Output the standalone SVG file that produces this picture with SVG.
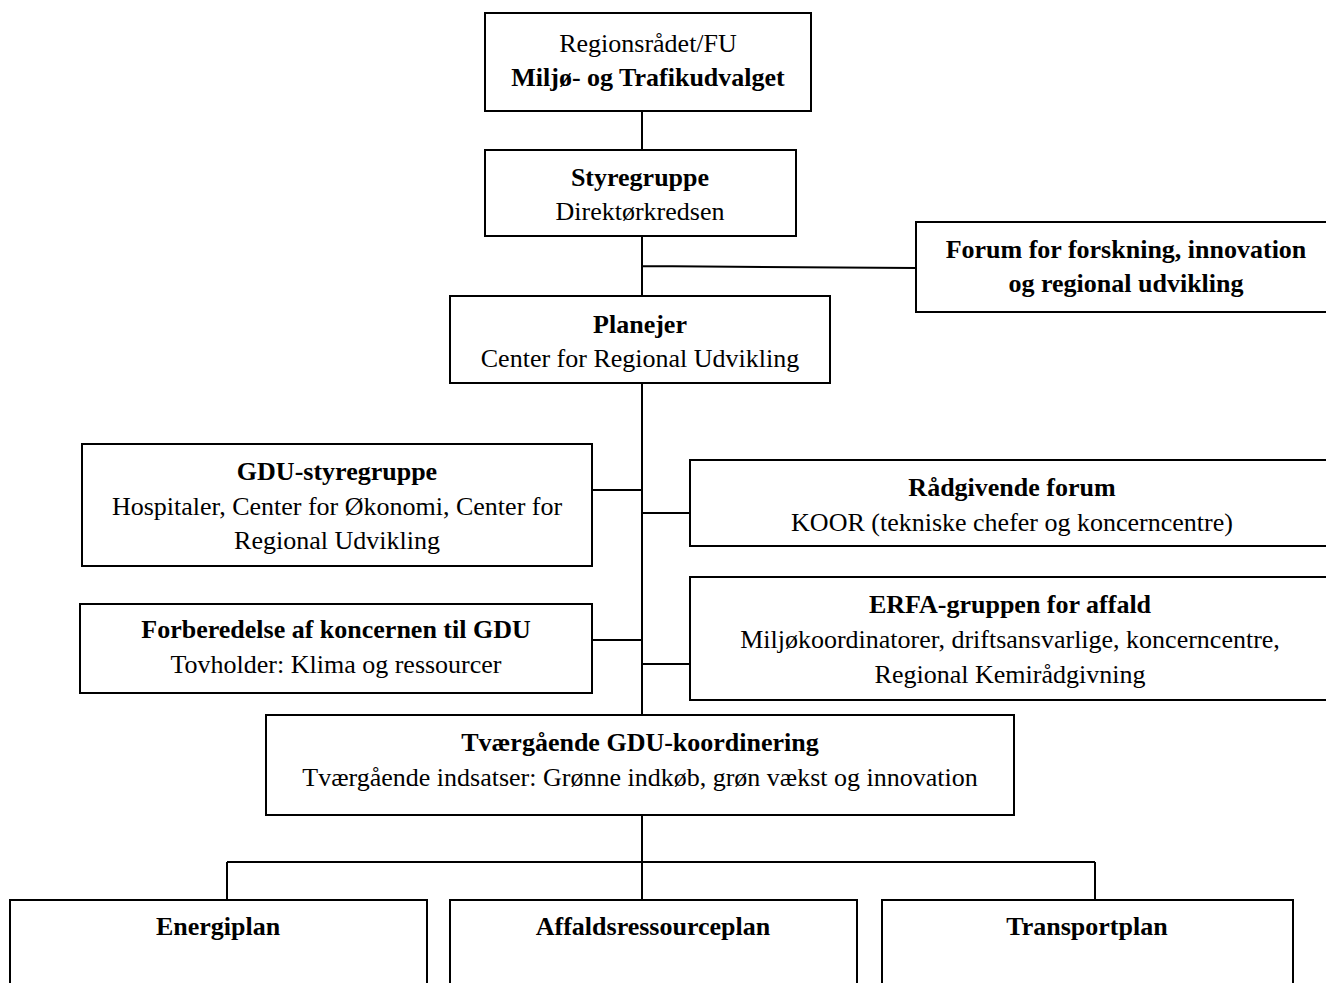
<svg xmlns="http://www.w3.org/2000/svg" width="1326" height="983" viewBox="0 0 1326 983">
<style>
.box{fill:#fff;stroke:#000;stroke-width:2}
.ln{fill:none;stroke:#000;stroke-width:2}
text{font-family:"Liberation Serif","Times New Roman",serif;font-size:26px;fill:#000;text-anchor:middle}
.b{font-weight:bold}
</style>
<rect width="1326" height="983" fill="#fff"/>
<g id="connectors">
<path class="ln" d="M642 111V150M642 236V296M642 266L916 268M642 383V715M592 490H642M642 513H690M592 640H642M642 664H690M642 815V862M227 862H1095M227 862V900M1095 862V900M642 862V900"/>
</g>
<g id="n-top"><rect class="box" x="485" y="13" width="326" height="98"/><text x="648" y="52">Regionsrådet/FU</text><text class="b" x="648" y="86">Miljø- og Trafikudvalget</text></g>
<g id="n-styre"><rect class="box" x="485" y="150" width="311" height="86"/><text class="b" x="640" y="186">Styregruppe</text><text x="640" y="220">Direktørkredsen</text></g>
<g id="n-forum"><rect class="box" x="916" y="222" width="420" height="90"/><text class="b" x="1126" y="258">Forum for forskning, innovation</text><text class="b" x="1126" y="292">og regional udvikling</text></g>
<g id="n-planejer"><rect class="box" x="450" y="296" width="380" height="87"/><text class="b" x="640" y="333">Planejer</text><text x="640" y="367">Center for Regional Udvikling</text></g>
<g id="n-gdu"><rect class="box" x="82" y="444" width="510" height="122"/><text class="b" x="337" y="480">GDU-styregruppe</text><text x="337" y="515">Hospitaler, Center for Økonomi, Center for</text><text x="337" y="549">Regional Udvikling</text></g>
<g id="n-raad"><rect class="box" x="690" y="460" width="650" height="86"/><text class="b" x="1012" y="496">Rådgivende forum</text><text x="1012" y="531">KOOR (tekniske chefer og koncerncentre)</text></g>
<g id="n-erfa"><rect class="box" x="690" y="577" width="650" height="123"/><text class="b" x="1010" y="613">ERFA-gruppen for affald</text><text x="1010" y="648">Miljøkoordinatorer, driftsansvarlige, koncerncentre,</text><text x="1010" y="683">Regional Kemirådgivning</text></g>
<g id="n-forb"><rect class="box" x="80" y="604" width="512" height="89"/><text class="b" x="336" y="638">Forberedelse af koncernen til GDU</text><text x="336" y="673">Tovholder: Klima og ressourcer</text></g>
<g id="n-tvaer"><rect class="box" x="266" y="715" width="748" height="100"/><text class="b" x="640" y="751">Tværgående GDU-koordinering</text><text x="640" y="786">Tværgående indsatser: Grønne indkøb, grøn vækst og innovation</text></g>
<g id="n-energi"><rect class="box" x="10" y="900" width="417" height="110"/><text class="b" x="218" y="935">Energiplan</text></g>
<g id="n-affald"><rect class="box" x="450" y="900" width="407" height="110"/><text class="b" x="653" y="935">Affaldsressourceplan</text></g>
<g id="n-transport"><rect class="box" x="882" y="900" width="411" height="110"/><text class="b" x="1087" y="935">Transportplan</text></g>
</svg>
